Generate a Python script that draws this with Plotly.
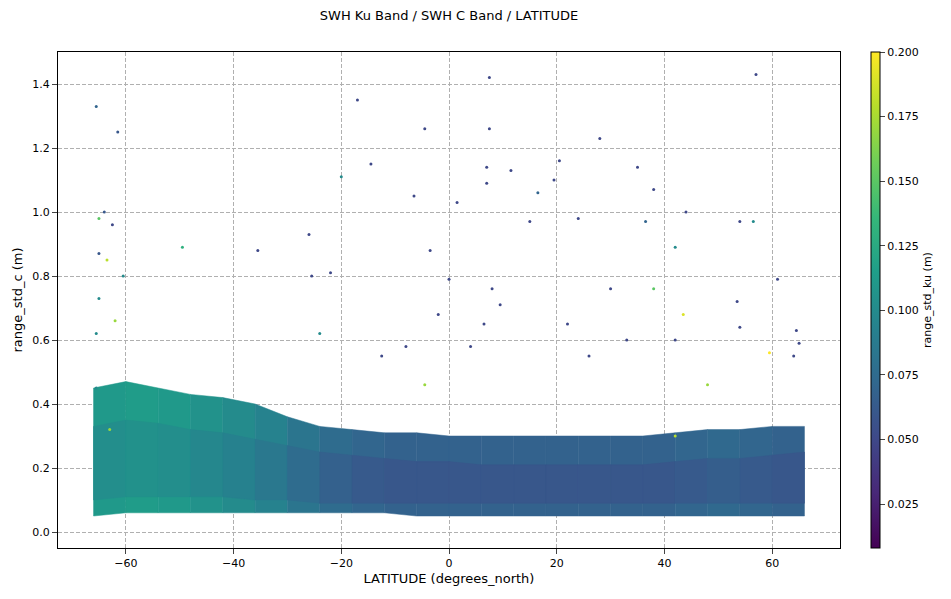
import plotly.graph_objects as go
from plotly.colors import sample_colorscale

CMIN, CMAX = 0.008, 0.2
# Dense cloud envelope (read per latitude node)
lat_nodes = [-66,-60,-54,-48,-42,-36,-30,-24,-18,-12,-6,0,6,12,18,24,30,36,42,48,54,60,66]
outer_up = [0.45,0.47,0.45,0.43,0.42,0.40,0.36,0.33,0.32,0.31,0.31,0.30,0.30,0.30,0.30,0.30,0.30,0.30,0.31,0.32,0.32,0.33,0.33]
outer_lo = [0.05,0.06,0.06,0.06,0.06,0.06,0.06,0.06,0.06,0.06,0.05,0.05,0.05,0.05,0.05,0.05,0.05,0.05,0.05,0.05,0.05,0.05,0.05]
core_up = [0.33,0.35,0.34,0.32,0.31,0.29,0.27,0.25,0.24,0.23,0.22,0.22,0.21,0.21,0.21,0.21,0.21,0.21,0.22,0.23,0.23,0.24,0.25]
core_lo = [0.10,0.11,0.11,0.11,0.11,0.10,0.10,0.09,0.09,0.09,0.09,0.09,0.09,0.09,0.09,0.09,0.09,0.09,0.09,0.09,0.09,0.09,0.09]
core_ku = [0.10,0.105,0.105,0.10,0.095,0.09,0.08,0.07,0.065,0.06,0.06,0.06,0.06,0.06,0.06,0.06,0.06,0.06,0.06,0.065,0.065,0.06,0.06]

# Sparse outliers: latitude, range_std_c, range_std_ku
out_lat = [-65.5,-61.5,-17,-14.5,-4.5,7.5,7.5,7,7,11.5,20.5,19.5,28,35,38,57,-20,1.5,-6.5,16.5,15,24,36.5,44,54,56.5,-64,-65,-62.5,-49.5,-35.5,-26,-3.5,42,-22,-60.5,-63.5,-65,0,8,9.5,30,38,43.5,53.5,61,-65,-62,-25.5,-12.5,-24,-2,6.5,22,42,54,59.5,64.5,65,-65.5,33,48,42,-4.5,4,26,64,-8,-65.5,-63]
out_c = [1.33,1.25,1.35,1.15,1.26,1.42,1.26,1.14,1.09,1.13,1.16,1.10,1.23,1.14,1.07,1.43,1.11,1.03,1.05,1.06,0.97,0.98,0.97,1.0,0.97,0.97,1.0,0.98,0.96,0.89,0.88,0.93,0.88,0.89,0.81,0.8,0.85,0.87,0.79,0.76,0.71,0.76,0.76,0.68,0.72,0.79,0.73,0.66,0.8,0.55,0.62,0.68,0.65,0.65,0.6,0.64,0.56,0.63,0.59,0.62,0.6,0.46,0.3,0.46,0.58,0.55,0.55,0.58,0.45,0.32]
out_ku = [0.07,0.06,0.05,0.05,0.05,0.05,0.05,0.05,0.05,0.05,0.05,0.05,0.05,0.05,0.05,0.05,0.1,0.05,0.05,0.07,0.05,0.05,0.07,0.05,0.05,0.1,0.06,0.15,0.05,0.13,0.05,0.05,0.05,0.1,0.05,0.1,0.18,0.06,0.05,0.05,0.05,0.05,0.15,0.19,0.05,0.05,0.1,0.17,0.05,0.05,0.1,0.05,0.05,0.05,0.05,0.05,0.2,0.05,0.05,0.1,0.05,0.17,0.18,0.17,0.05,0.05,0.05,0.05,0.1,0.17]

def col(v):
    return sample_colorscale("Viridis", [(v - CMIN) / (CMAX - CMIN)])[0]

fig = go.Figure()
for up, lo, shift in [(outer_up, outer_lo, 0.008), (core_up, core_lo, 0.0)]:
    for i in range(len(lat_nodes) - 1):
        xs = [lat_nodes[i], lat_nodes[i+1], lat_nodes[i+1], lat_nodes[i], lat_nodes[i]]
        ys = [lo[i], lo[i+1], up[i+1], up[i], lo[i]]
        c = col((core_ku[i] + core_ku[i+1]) / 2 + shift)
        fig.add_trace(go.Scatter(x=xs, y=ys, fill="toself", fillcolor=c,
                                 mode="lines", line=dict(width=0.5, color=c),
                                 hoverinfo="skip", showlegend=False))
fig.add_trace(go.Scatter(
    x=out_lat, y=out_c, mode="markers", showlegend=False,
    marker=dict(size=3, color=out_ku, colorscale="Viridis", cmin=CMIN, cmax=CMAX,
                colorbar=dict(title=dict(text="range_std_ku (m)", side="right", font=dict(size=11)),
                              thickness=9, len=1.0, lenmode="fraction", x=1.04, xanchor="left",
                              y=0.5, yanchor="middle", ypad=0, xpad=0,
                              tickvals=[0.025,0.05,0.075,0.1,0.125,0.15,0.175,0.2],
                              ticktext=["0.025","0.050","0.075","0.100","0.125","0.150","0.175","0.200"],
                              tickfont=dict(size=11), outlinewidth=1, outlinecolor="black", ticks="outside"))))

ax = dict(showgrid=True, gridcolor="#b0b0b0", griddash="4px,2px", gridwidth=1,
          showline=True, linecolor="black", mirror=True, ticks="outside",
          tickfont=dict(size=11), zeroline=False)
fig.update_layout(
    width=951, height=599, plot_bgcolor="white", paper_bgcolor="white",
    font=dict(family="DejaVu Sans", color="black"),
    title=dict(text="SWH Ku Band / SWH C Band / LATITUDE", x=0.5, xref="paper", y=0.987, yanchor="middle",
               xanchor="center", font=dict(size=13), automargin=False),
    margin=dict(l=50, r=119, t=44, b=59, autoexpand=False),
    xaxis=dict(title=dict(text="LATITUDE (degrees_north)", font=dict(size=13), standoff=4), range=[-72.6, 72.6],
               tickvals=[-60,-40,-20,0,20,40,60], **ax),
    yaxis=dict(title=dict(text="range_std_c (m)", font=dict(size=13), standoff=6), range=[-0.05, 1.5],
               tickvals=[0,0.2,0.4,0.6,0.8,1.0,1.2,1.4],
               ticktext=["0.0","0.2","0.4","0.6","0.8","1.0","1.2","1.4"], **ax),
)
fig.write_html("out.html")
